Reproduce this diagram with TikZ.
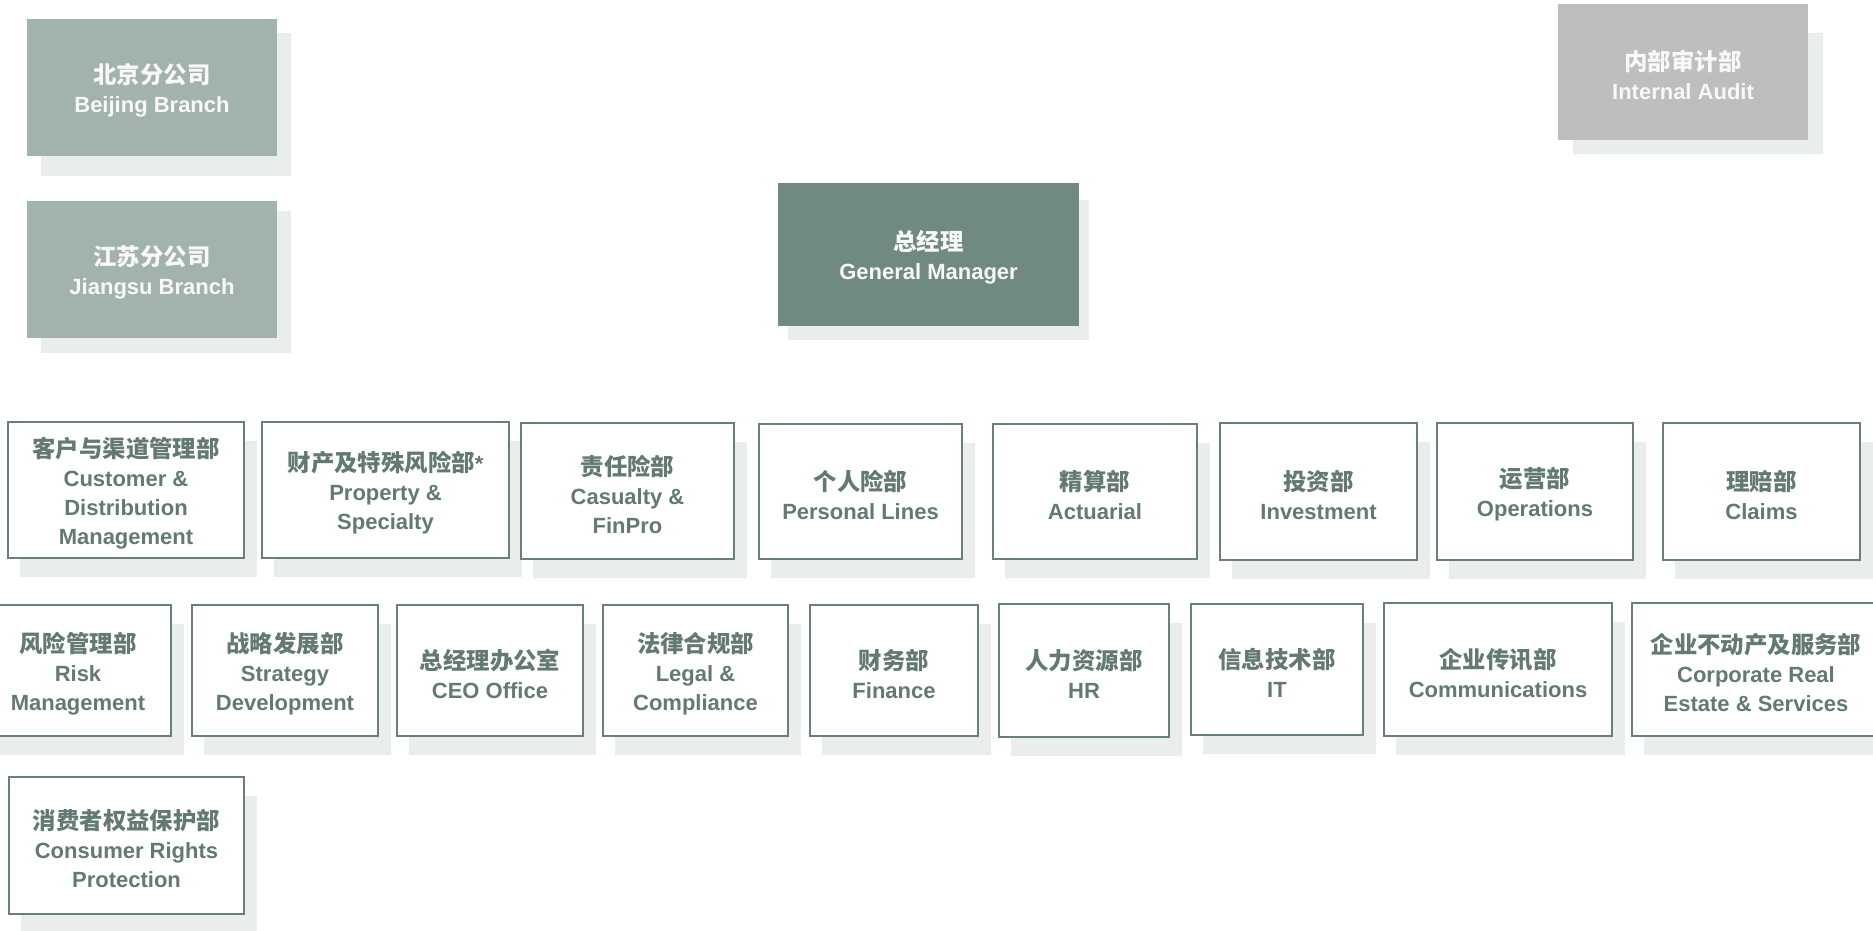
\documentclass[tikz,border=0pt]{standalone}
\usepackage{fontspec}
\setmainfont{Liberation Sans}
\newfontfamily\cjk{Noto Sans CJK SC}
\definecolor{gmfill}{RGB}{112,138,129}
\definecolor{brfill}{RGB}{162,178,173}
\definecolor{iafill}{RGB}{190,190,190}
\definecolor{shadowc}{RGB}{233,237,237}
\definecolor{boxline}{RGB}{104,128,120}
\definecolor{depttext}{RGB}{98,122,114}
\definecolor{toptext}{RGB}{248,248,248}
\newcommand\zh[1]{{\cjk\bfseries\fontsize{23.4}{29}\selectfont #1}}
\tikzset{
  deptbox/.style={draw=boxline, line width=2pt, fill=white, inner sep=0pt},
  topbox/.style={fill=#1, inner sep=0pt},
  depttxt/.style={text=depttext, align=center, inner sep=0pt,
    font=\fontsize{22}{29}\selectfont\bfseries},
  toptxt/.style={text=toptext, align=center, inner sep=0pt,
    font=\fontsize{22}{29}\selectfont\bfseries},
  shade/.style={fill=shadowc}
}
\newcommand\dept[6]{%
  \fill[shade] ({#2+12},{#3+19}) rectangle ({#4+13},{#5+19});
  \node[deptbox, minimum width={(#4-#2)*1pt}, minimum height={(#5-#3)*1pt}] (#1) at ({(#2+#4)/2},{(#3+#5)/2}) {};
  \node[depttxt] (#1-text) at ([yshift=-3pt]#1.center) {#6};
}
\newcommand\topb[7]{%
  \node[topbox=#6, minimum width={(#4-#2)*1pt}, minimum height={(#5-#3)*1pt}] (#1) at ({(#2+#4)/2},{(#3+#5)/2}) {};
  \node[toptxt] (#1-text) at ([yshift=-3pt]#1.center) {#7};
}
\begin{document}
\begin{tikzpicture}[x=1pt,y=-1pt]
\useasboundingbox (0,0) rectangle (1873,930);
% top boxes with shadows
\fill[shade] (41,33) rectangle (291,176);
\topb{beijing}{27}{19}{277}{156}{brfill}{\zh{北京分公司}\\Beijing Branch}
\fill[shade] (41,211) rectangle (291,353);
\topb{jiangsu}{27}{201}{277}{338}{brfill}{\zh{江苏分公司}\\Jiangsu Branch}
\fill[shade] (788,200) rectangle (1089,340);
\topb{gm}{778}{183}{1079}{326}{gmfill}{\zh{总经理}\\General Manager}
\fill[shade] (1573,33) rectangle (1823,154);
\topb{audit}{1558}{4}{1808}{140}{iafill}{\zh{内部审计部}\\Internal Audit}
% row 1
\dept{cust}{8}{422}{244}{558}{\zh{客户与渠道管理部}\\Customer \&\\Distribution\\Management}
\dept{prop}{262}{422}{509}{558}{\zh{财产及特殊风险部}*\\Property \&\\Specialty}
\dept{cas}{521}{423}{734}{559}{\zh{责任险部}\\Casualty \&\\FinPro}
\dept{pers}{759}{424}{962}{559}{\zh{个人险部}\\Personal Lines}
\dept{act}{993}{424}{1197}{559}{\zh{精算部}\\Actuarial}
\dept{inv}{1220}{423}{1417}{560}{\zh{投资部}\\Investment}
\dept{ops}{1437}{423}{1633}{560}{\zh{运营部}\\Operations}
\dept{claims}{1663}{423}{1860}{560}{\zh{理赔部}\\Claims}
% row 2
\dept{risk}{-15}{605}{171}{736}{\zh{风险管理部}\\Risk\\Management}
\dept{strat}{192}{605}{378}{736}{\zh{战略发展部}\\Strategy\\Development}
\dept{ceo}{397}{605}{583}{736}{\zh{总经理办公室}\\CEO Office}
\dept{legal}{603}{605}{788}{736}{\zh{法律合规部}\\Legal \&\\Compliance}
\dept{fin}{810}{605}{978}{736}{\zh{财务部}\\Finance}
\dept{hr}{999}{604}{1169}{737}{\zh{人力资源部}\\HR}
\dept{it}{1191}{604}{1363}{735}{\zh{信息技术部}\\IT}
\dept{comm}{1384}{603}{1612}{736}{\zh{企业传讯部}\\Communications}
\dept{corp}{1632}{603}{1880}{736}{\zh{企业不动产及服务部}\\Corporate Real\\Estate \& Services}
% row 3
\dept{cons}{9}{777}{244}{914}{\zh{消费者权益保护部}\\Consumer Rights\\Protection}
\end{tikzpicture}
\end{document}
